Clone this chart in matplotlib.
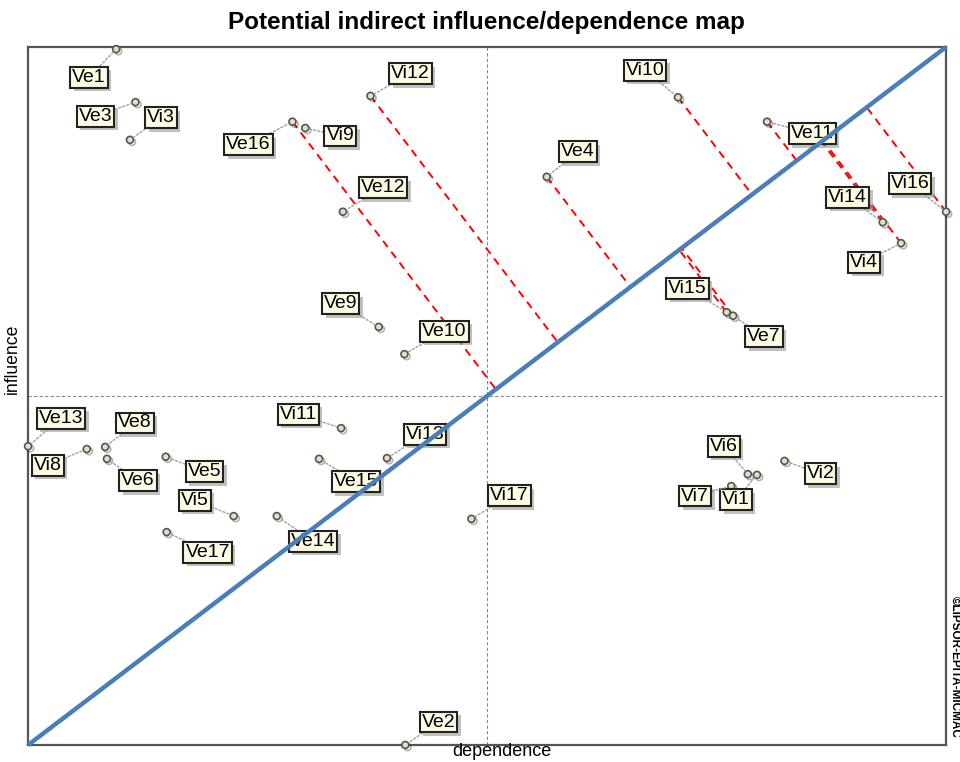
import matplotlib
matplotlib.use("Agg")
import matplotlib.pyplot as plt
import matplotlib.patheffects as pe
import numpy as np

plt.rcParams["font.family"] = ["Liberation Sans", "DejaVu Sans"]

# variables: dependence (x), influence (y), on a 0-100 scale
names = ["Ve1", "Ve3", "Vi3", "Ve16", "Vi9", "Vi12", "Ve12", "Ve4", "Vi10",
         "Ve11", "Vi14", "Vi16", "Vi4", "Vi15", "Ve7", "Ve9", "Ve10", "Ve13",
         "Vi8", "Ve8", "Ve6", "Ve5", "Vi5", "Ve17", "Vi11", "Ve15", "Vi13",
         "Ve14", "Vi17", "Ve2", "Vi6", "Vi1", "Vi7", "Vi2"]
dependence = [9.6, 11.7, 11.1, 28.8, 30.2, 37.3, 34.3, 56.5, 70.8,
              80.5, 93.1, 100.0, 95.1, 76.1, 76.8, 38.2, 41.0, 0.0,
              6.4, 8.4, 8.6, 15.0, 22.4, 15.1, 34.1, 31.7, 39.1,
              27.1, 48.3, 41.1, 78.4, 79.4, 76.6, 82.4]
influence = [99.7, 92.1, 86.7, 89.3, 88.4, 93.0, 76.4, 81.4, 92.8,
             89.3, 74.9, 76.4, 71.9, 62.0, 61.5, 59.9, 56.0, 42.8,
             42.4, 42.7, 41.0, 41.3, 32.8, 30.5, 45.4, 41.0, 41.1,
             32.8, 32.4, 0.0, 38.8, 38.7, 37.1, 40.7]
# variables whose displacement to the diagonal is drawn
projected = ["Ve16", "Vi12", "Ve4", "Vi10", "Ve11", "Vi16", "Vi14", "Vi4",
             "Vi15", "Ve7"]

# label placement (pixels from the point)
offsets = {
    "Ve1": (-27, -28), "Ve3": (-40, -14), "Vi3": (31, 22), "Ve16": (-44, -23),
    "Vi9": (35, -8), "Vi12": (40, 22), "Ve12": (40, 24), "Ve4": (31, 25),
    "Vi10": (-33, 27), "Ve11": (45, -12), "Vi14": (-35, 25), "Vi16": (-36, 28),
    "Vi4": (-37, -19), "Vi15": (-39, 24), "Ve7": (31, -21), "Ve9": (-38, 23),
    "Ve10": (40, 23), "Ve13": (33, 28), "Vi8": (-39, -16), "Ve8": (30, 24),
    "Ve6": (31, -22), "Ve5": (39, -15), "Vi5": (-39, 16), "Ve17": (41, -20),
    "Vi11": (-43, 14), "Ve15": (37, -23), "Vi13": (38, 24), "Ve14": (36, -25),
    "Vi17": (38, 23), "Ve2": (33, 23), "Vi6": (-24, 28), "Vi1": (-21, -25),
    "Vi7": (-36, -10), "Vi2": (36, -13),
}

fig = plt.figure(figsize=(9.6, 7.62), dpi=100)
ax = fig.add_axes([0.0292, 0.0223, 0.9563, 0.9160])
ax.set_xlim(0, 100)
ax.set_ylim(0, 100)
ax.set_xticks([])
ax.set_yticks([])
for s in ax.spines.values():
    s.set_color("#555555")
    s.set_linewidth(1.6)

ax.axvline(50, color="#888888", lw=0.8, ls=(0, (3, 2)), zorder=1)
ax.axhline(50, color="#888888", lw=0.8, ls=(0, (3, 2)), zorder=1)

# red dashed lines: perpendicular (on screen) from point to the diagonal
fig.canvas.draw()
tr = ax.transData
d0 = tr.transform((0, 0))
d1 = tr.transform((100, 100))
u = (d1 - d0) / np.linalg.norm(d1 - d0)
for n in projected:
    i = names.index(n)
    p = tr.transform((dependence[i], influence[i]))
    foot = d0 + np.dot(p - d0, u) * u
    fx, fy = tr.inverted().transform(foot)
    ax.plot([dependence[i], fx], [influence[i], fy], color="red", lw=1.4,
            ls=(0, (4, 3)), zorder=2, clip_on=False)

ax.plot([0, 100], [0, 100], color="#4a7ebb", lw=3.2, zorder=6,
        solid_capstyle="butt", clip_on=False)

shadow = [pe.SimplePatchShadow(offset=(2.5, -2.5), shadow_rgbFace="#999999",
                               alpha=0.6), pe.Normal()]
for n, x, y in zip(names, dependence, influence):
    dx, dy = offsets[n]
    t = ax.annotate(n, (x, y), xytext=(dx, dy), textcoords="offset pixels",
                    ha="center", va="center", fontsize=14, zorder=5,
                    annotation_clip=False,
                    bbox=dict(boxstyle="square,pad=0.1", fc="#fdfbe3",
                              ec="#222222", lw=1.5),
                    arrowprops=dict(arrowstyle="-", color="#a0a0a0", lw=1.0,
                                    ls=(0, (1.5, 1.5)), shrinkA=0, shrinkB=3))
    t.get_bbox_patch().set_path_effects(shadow)
    ax.plot(x, y, "o", ms=5, mfc="#e2e2c0", mec="#555555", mew=1.2,
            zorder=4, clip_on=False,
            path_effects=[pe.SimpleLineShadow(offset=(1.5, -1.5)), pe.Normal()])

fig.text(0.507, 0.971, "Potential indirect influence/dependence map",
         ha="center", va="center", fontsize=17.5, fontweight="bold")
fig.text(0.523, 0.002, "dependence", ha="center", va="bottom", fontsize=13)
fig.text(0.013, 0.529, "influence", ha="center", va="center", fontsize=12.7,
         rotation=90)
fig.text(0.995, 0.125, "©LIPSOR-EPITA-MICMAC", ha="center", va="center",
         fontsize=8.5, rotation=270, fontweight="bold")

fig.savefig("out.png", dpi=100)
